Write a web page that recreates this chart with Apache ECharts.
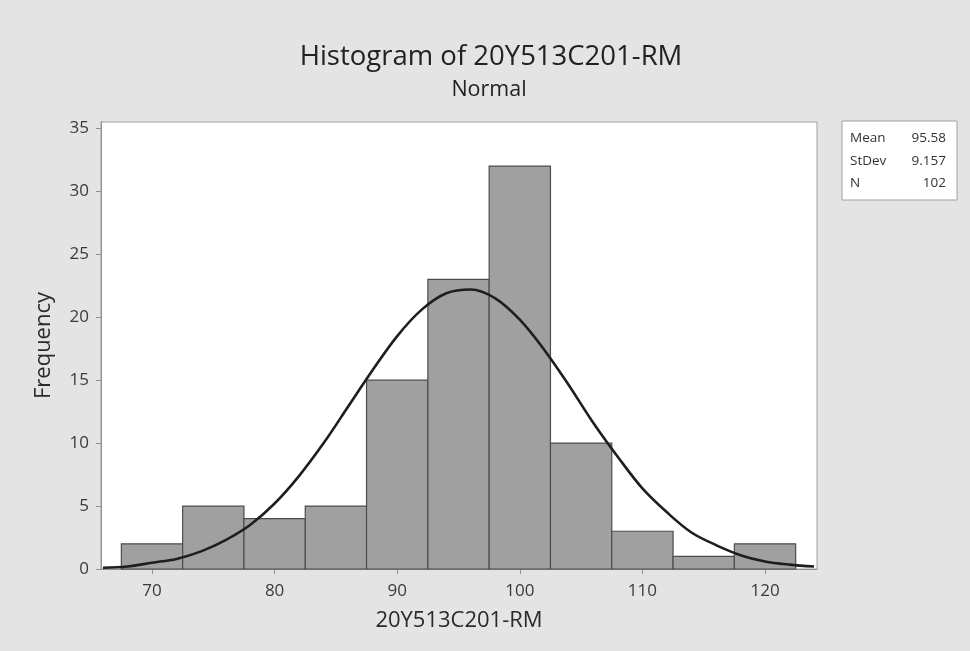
<!DOCTYPE html>
<html>
<head>
<meta charset="utf-8">
<style>
  html, body { margin: 0; padding: 0; background: #e4e4e4; }
  #chart { width: 970px; height: 651px; }
</style>
<script src="https://cdn.jsdelivr.net/npm/echarts@6/dist/echarts.min.js"></script>
</head>
<body>
<div id="chart"></div>
<script>
// Histogram bins (centre of each bin) and counts
const binCenters = [70, 75, 80, 85, 90, 95, 100, 105, 110, 115, 120];
const binCounts  = [2, 5, 4, 5, 15, 23, 32, 10, 3, 1, 2];
const binWidth = 5;

// Fitted normal curve (frequency scale)
const curveX = [66, 68, 70, 72, 74, 76, 78, 80, 82, 84, 86, 88, 90, 92, 94, 96,
                98, 100, 102, 104, 106, 108, 110, 112, 114, 116, 118, 120, 122, 124];
const curveY = [0.1, 0.2, 0.5, 0.8, 1.4, 2.3, 3.5, 5.2, 7.4, 10.0, 12.9, 15.8, 18.5, 20.6, 21.9, 22.2,
                21.5, 19.8, 17.4, 14.6, 11.6, 8.9, 6.4, 4.5, 2.9, 1.9, 1.1, 0.6, 0.35, 0.2];

// Tick labels
const xTicks = [70, 80, 90, 100, 110, 120];
const yTicks = [0, 5, 10, 15, 20, 25, 30, 35];

// Summary statistics box
const statNames  = ['Mean', 'StDev', 'N'];
const statValues = ['95.58', '9.157', '102'];

const FONT = '"Open Sans", "Noto Sans", sans-serif';

const histData = binCenters.map((c, i) => [c - binWidth / 2, c + binWidth / 2, binCounts[i]]);
const curveData = curveX.map((x, i) => [x, curveY[i]]);

const chart = echarts.init(document.getElementById('chart'));

const statRowsY = [138, 161, 183];
const statGraphics = [];
statNames.forEach((name, i) => {
  statGraphics.push({
    type: 'text', x: 850, y: statRowsY[i],
    style: { text: name, font: '13.5px ' + FONT, fill: '#333', align: 'left', verticalAlign: 'middle' }
  });
  statGraphics.push({
    type: 'text', x: 946, y: statRowsY[i],
    style: { text: statValues[i], font: '13.5px ' + FONT, fill: '#333', align: 'right', verticalAlign: 'middle' }
  });
});

chart.setOption({
  backgroundColor: '#e4e4e4',
  animation: false,
  grid: {
    left: 101, top: 122, width: 716, height: 447,
    show: true, backgroundColor: '#ffffff', borderColor: '#a0a0a0', borderWidth: 1
  },
  xAxis: {
    type: 'value',
    min: 65.84, max: 124.24,
    name: '20Y513C201-RM',
    nameLocation: 'middle',
    nameGap: 41,
    nameTextStyle: { fontFamily: FONT, fontSize: 22, color: '#2a2a2a' },
    axisLine: { show: true, lineStyle: { color: '#909090' } },
    axisTick: { show: true, length: 5, lineStyle: { color: '#909090' }, customValues: xTicks },
    axisLabel: { fontFamily: FONT, fontSize: 17, color: '#3a3a3a', margin: 14, customValues: xTicks },
    splitLine: { show: false }
  },
  yAxis: {
    type: 'value',
    min: 0, max: 35.5,
    name: 'Frequency',
    nameLocation: 'middle',
    nameGap: 46,
    nameTextStyle: { fontFamily: FONT, fontSize: 22, color: '#2a2a2a' },
    axisLine: { show: true, lineStyle: { color: '#909090' } },
    axisTick: { show: true, length: 5, lineStyle: { color: '#909090' }, customValues: yTicks },
    axisLabel: { fontFamily: FONT, fontSize: 17, color: '#3a3a3a', margin: 12, customValues: yTicks },
    splitLine: { show: false }
  },
  series: [
    {
      type: 'custom',
      data: histData,
      encode: { x: [0, 1], y: 2 },
      renderItem: function (params, api) {
        const top = api.coord([api.value(0), api.value(2)]);
        const bottom = api.coord([api.value(1), 0]);
        return {
          type: 'rect',
          shape: { x: top[0], y: top[1], width: bottom[0] - top[0], height: bottom[1] - top[1] },
          style: { fill: '#a0a0a0', stroke: '#4d4d4d', lineWidth: 1.2 }
        };
      },
      z: 2
    },
    {
      type: 'line',
      data: curveData,
      smooth: 0.35,
      symbol: 'none',
      lineStyle: { color: '#1e1e1e', width: 2.6 },
      z: 3
    }
  ],
  graphic: [
    {
      type: 'text', x: 491, y: 57,
      style: { text: 'Histogram of 20Y513C201-RM', font: '27.5px ' + FONT, fill: '#222', align: 'center', verticalAlign: 'middle' }
    },
    {
      type: 'text', x: 489, y: 90,
      style: { text: 'Normal', font: '21.5px ' + FONT, fill: '#222', align: 'center', verticalAlign: 'middle' }
    },
    {
      type: 'rect',
      shape: { x: 842, y: 121, width: 115, height: 79 },
      style: { fill: '#ffffff', stroke: '#a0a0a0', lineWidth: 1 }
    }
  ].concat(statGraphics)
});
</script>
</body>
</html>
